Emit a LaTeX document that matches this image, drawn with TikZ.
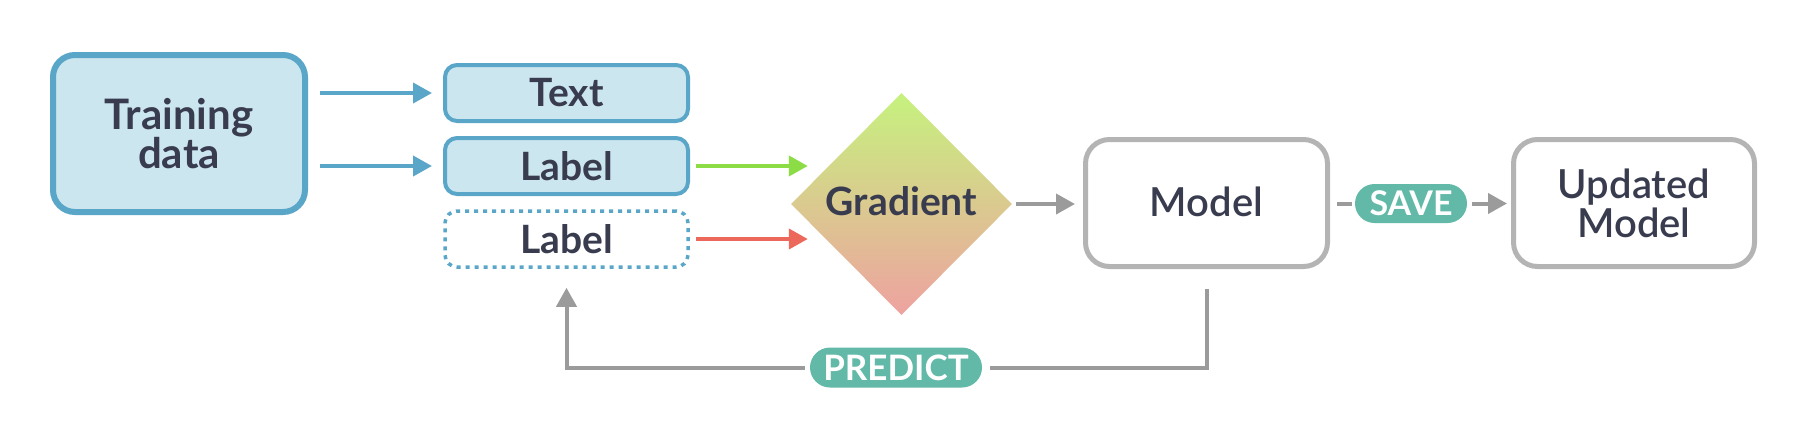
\documentclass[tikz,border=0pt]{standalone}
\usepackage{fontspec}
\setmainfont{Lato}
\newfontfamily\latosemi{Lato Semibold}
\usetikzlibrary{arrows.meta,shapes.geometric}
\definecolor{bluebd}{RGB}{90,166,201}
\definecolor{bluefill}{RGB}{204,230,240}
\definecolor{txtc}{RGB}{56,60,78}
\definecolor{grayln}{RGB}{155,155,155}
\definecolor{graybd}{RGB}{180,180,180}
\definecolor{pillteal}{RGB}{98,185,168}
\definecolor{greenar}{RGB}{140,220,70}
\definecolor{redar}{RGB}{236,104,90}
\definecolor{gtop}{RGB}{198,242,126}
\definecolor{gmid}{RGB}{214,198,128}
\definecolor{gbot}{RGB}{238,162,160}
\begin{document}
\begin{tikzpicture}[x=1pt,y=-1pt,
  tip/.style={-{Triangle[length=19pt,width=20pt]}},
  trainbox/.style={draw=bluebd, fill=bluefill, line width=6pt, rounded corners=22pt,
    minimum width=252pt, minimum height=157pt, inner sep=0pt, text=txtc, align=center,
    font=\fontsize{42}{38}\selectfont\bfseries},
  smallbox/.style={draw=bluebd, fill=bluefill, line width=4pt, rounded corners=12pt,
    minimum width=243pt, minimum height=56pt, inner sep=0pt, text=txtc,
    font=\fontsize{39}{39}\selectfont\bfseries},
  dotbox/.style={smallbox, fill=white, line width=3.5pt, dash pattern=on 4pt off 5pt},
  modelbox/.style={draw=graybd, fill=white, line width=5pt, rounded corners=24pt,
    minimum width=242pt, minimum height=127pt, inner sep=0pt, text=txtc, align=center,
    font=\fontsize{40}{39}\selectfont\latosemi},
  pill/.style={fill=pillteal, rounded corners=19.5pt, minimum height=39pt, inner sep=0pt,
    text=white, font=\fontsize{34}{34}\selectfont\bfseries},
  blueln/.style={draw=bluebd, line width=4pt, tip},
  grayl/.style={draw=grayln, line width=4pt},
]
\useasboundingbox (0,0) rectangle (1816,424);

\node[trainbox] (train) at (179,133.5) {Training\\data};
\node[smallbox] (text) at (566.5,93) {Text};
\node[smallbox] (label1) at (566.5,166) {Label};
\node[dotbox] (label2) at (566.5,239) {Label};
\node[diamond, minimum width=221pt, minimum height=222pt, inner sep=0pt,
  top color=gtop, middle color=gmid, bottom color=gbot, draw=none,
  text=txtc, font=\fontsize{39}{39}\selectfont\bfseries] (grad) at (901.5,204) {\raisebox{6pt}{Gradient}};
\node[modelbox] (model) at (1206.5,203) {\raisebox{3pt}{Model}};
\node[modelbox, minimum width=241pt] (updated) at (1634,203) {Updated\\Model};
\node[pill, minimum width=112pt] (save) at (1411,203.5) {SAVE};
\node[pill, minimum width=172pt, minimum height=40pt, rounded corners=20pt,
  font=\fontsize{35}{35}\selectfont\bfseries] (predict) at (896,367.5) {PREDICT};

\coordinate (gin) at ([xshift=17pt]grad.west);

\draw[blueln, shorten <=12pt, shorten >=11pt] (train.east |- text.west) -- (text.west);
\draw[blueln, shorten <=12pt, shorten >=11pt] (train.east |- label1.west) -- (label1.west);
\draw[draw=greenar, line width=4pt, tip, shorten <=6pt] (label1.east) -- (gin |- label1.east);
\draw[draw=redar, line width=4pt, tip, shorten <=6pt] (label2.east) -- (gin |- label2.east);
\draw[grayl, tip, shorten <=4pt, shorten >=8pt] (grad.east) -- (grad.east -| model.west);
\draw[grayl, shorten <=7pt, shorten >=3pt] (model.east |- save.west) -- (save.west);
\draw[grayl, tip, shorten <=5pt, shorten >=4pt] (save.east) -- (save.east -| updated.west);
\draw[grayl, shorten <=20pt, shorten >=8pt] (model.south) |- (predict.east);
\draw[grayl, tip, shorten <=5pt, shorten >=19pt] (predict.west) -| (label2.south);
\end{tikzpicture}
\end{document}
